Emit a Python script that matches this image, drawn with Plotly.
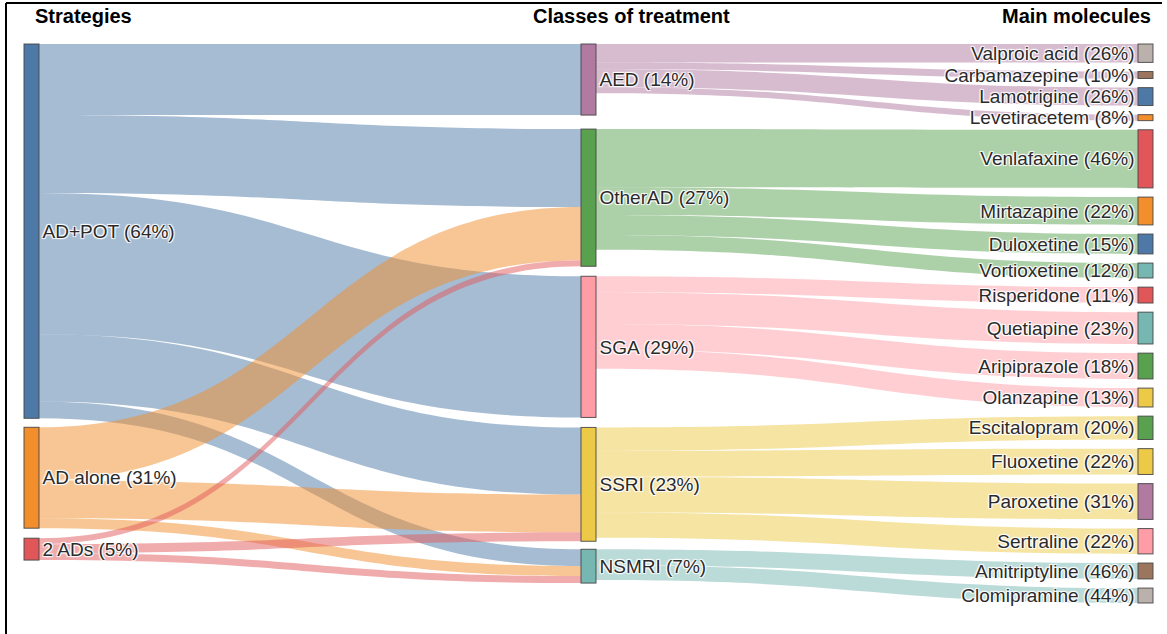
import plotly.graph_objects as go

# ---------------- data ----------------
strategies = ["AD+POT (64%)", "AD alone (31%)", "2 ADs (5%)"]
classes = ["AED (14%)", "OtherAD (27%)", "SGA (29%)", "SSRI (23%)", "NSMRI (7%)"]
molecules = ["Valproic acid (26%)", "Carbamazepine (10%)", "Lamotrigine (26%)", "Levetiracetem (8%)",
             "Venlafaxine (46%)", "Mirtazapine (22%)", "Duloxetine (15%)", "Vortioxetine (12%)",
             "Risperidone (11%)", "Quetiapine (23%)", "Aripiprazole (18%)", "Olanzapine (13%)",
             "Escitalopram (20%)", "Fluoxetine (22%)", "Paroxetine (31%)", "Sertraline (22%)",
             "Amitriptyline (46%)", "Clomipramine (44%)"]

# flows strategy -> class (order of classes)
flows_ad_pot = [14.3, 15.7, 28.4, 13.5, 3.4]
flows_ad_alone = [0, 10.7, 0, 7.6, 2.0]
flows_2_ads = [0, 1.2, 0, 1.8, 1.4]

# flows class -> molecule
molecule_class = [0, 0, 0, 0, 1, 1, 1, 1, 2, 2, 2, 2, 3, 3, 3, 3, 4, 4]
molecule_values = [3.7, 1.4, 3.6, 1.2,
                   11.7, 5.6, 4.0, 3.0,
                   3.2, 6.4, 5.2, 3.8,
                   4.7, 5.2, 7.2, 5.1,
                   3.2, 3.0]

# ---------------- styles ----------------
strategy_colors = ["#4e79a7", "#f28e2b", "#e15759"]
class_colors = ["#b07aa1", "#59a14f", "#ff9da7", "#edc948", "#76b7b2"]
molecule_colors = ["#bab0ac", "#9c755f", "#4e79a7", "#f28e2b",
                   "#e15759", "#f28e2b", "#4e79a7", "#76b7b2",
                   "#e15759", "#76b7b2", "#59a14f", "#edc948",
                   "#59a14f", "#edc948", "#b07aa1", "#ff9da7",
                   "#9c755f", "#bab0ac"]

FIG_W, FIG_H = 1167, 634
X_LEFT, X_RIGHT = 24, 1153          # horizontal extent of the sankey (px)
Y_TOP, Y_BOTTOM = 44, 603           # vertical extent of the sankey (px)
THICK = 15
PAD = 9.14
GAPS_LEFT = [9, 10]                 # px gaps between nodes, left column
GAPS_MID = [14, 10, 10, 8]          # px gaps between nodes, middle column


def rgba(hex_color, a):
    h = hex_color.lstrip("#")
    r, g, b = int(h[0:2], 16), int(h[2:4], 16), int(h[4:6], 16)
    return f"rgba({r},{g},{b},{a})"


n_s, n_c, n_m = len(strategies), len(classes), len(molecules)
labels = strategies + classes + molecules
node_colors = strategy_colors + class_colors + molecule_colors

src, tgt, val, lcol = [], [], [], []
for si, flows in enumerate([flows_ad_pot, flows_ad_alone, flows_2_ads]):
    for ci, v in enumerate(flows):
        if v > 0:
            src.append(si)
            tgt.append(n_s + ci)
            val.append(v)
            lcol.append(rgba(strategy_colors[si], 0.5))
for mi, (ci, v) in enumerate(zip(molecule_class, molecule_values)):
    src.append(n_s + ci)
    tgt.append(n_s + n_c + mi)
    val.append(v)
    lcol.append(rgba(class_colors[ci], 0.5))

# node values like d3-sankey: max(in, out)
n_nodes = len(labels)
inflow = [0.0] * n_nodes
outflow = [0.0] * n_nodes
for s, t, v in zip(src, tgt, val):
    outflow[s] += v
    inflow[t] += v
node_val = [max(a, b) for a, b in zip(inflow, outflow)]

W = X_RIGHT - X_LEFT
H = Y_BOTTOM - Y_TOP
cols = [list(range(0, n_s)), list(range(n_s, n_s + n_c)), list(range(n_s + n_c, n_nodes))]
ky = min((H - (len(c) - 1) * PAD) / sum(node_val[i] for i in c) for c in cols)

col_x = [(THICK / 2) / W, 0.5, (W - THICK / 2) / W]
col_gaps = [GAPS_LEFT, GAPS_MID, [PAD] * (n_m - 1)]
node_x = [0.0] * n_nodes
node_y = [0.0] * n_nodes
for k, c in enumerate(cols):
    y = 0.0
    for j, i in enumerate(c):
        h = node_val[i] * ky
        node_x[i] = col_x[k]
        node_y[i] = (y + h / 2) / H
        y += h + (col_gaps[k][j] if j < len(c) - 1 else 0)

fig = go.Figure(go.Sankey(
    arrangement="fixed",
    domain=dict(x=[X_LEFT / FIG_W, X_RIGHT / FIG_W],
                y=[1 - Y_BOTTOM / FIG_H, 1 - Y_TOP / FIG_H]),
    node=dict(label=labels, color=node_colors, x=node_x, y=node_y,
              pad=PAD, thickness=THICK,
              line=dict(color="rgba(70,70,70,0.9)", width=1)),
    link=dict(source=src, target=tgt, value=val, color=lcol),
    textfont=dict(family="Liberation Sans, Arial, sans-serif", size=19, color="#2a2a2a"),
))

hdr_font = dict(family="Liberation Sans, Arial, sans-serif", size=20, color="black")
hy = 1 - 16 / FIG_H
fig.add_annotation(x=33 / FIG_W, y=hy, xref="paper", yref="paper", text="<b>Strategies</b>",
                   showarrow=False, xanchor="left", yanchor="middle", font=hdr_font)
fig.add_annotation(x=531 / FIG_W, y=hy, xref="paper", yref="paper", text="<b>Classes of treatment</b>",
                   showarrow=False, xanchor="left", yanchor="middle", font=hdr_font)
fig.add_annotation(x=1153 / FIG_W, y=hy, xref="paper", yref="paper", text="<b>Main molecules</b>",
                   showarrow=False, xanchor="right", yanchor="middle", font=hdr_font)

# frame lines (top and left)
fig.add_shape(type="line", xref="paper", yref="paper", x0=6 / FIG_W, x1=1162 / FIG_W,
              y0=1 - 3 / FIG_H, y1=1 - 3 / FIG_H, line=dict(color="black", width=2))
fig.add_shape(type="line", xref="paper", yref="paper", x0=6 / FIG_W, x1=6 / FIG_W,
              y0=1 - 3 / FIG_H, y1=0, line=dict(color="black", width=2))

fig.update_layout(width=FIG_W, height=FIG_H, margin=dict(l=0, r=0, t=0, b=0),
                  paper_bgcolor="white", plot_bgcolor="white")

fig.write_html("out.html", config={"displayModeBar": False},
               post_script="document.body.style.margin='0';document.body.style.overflow='hidden';")
